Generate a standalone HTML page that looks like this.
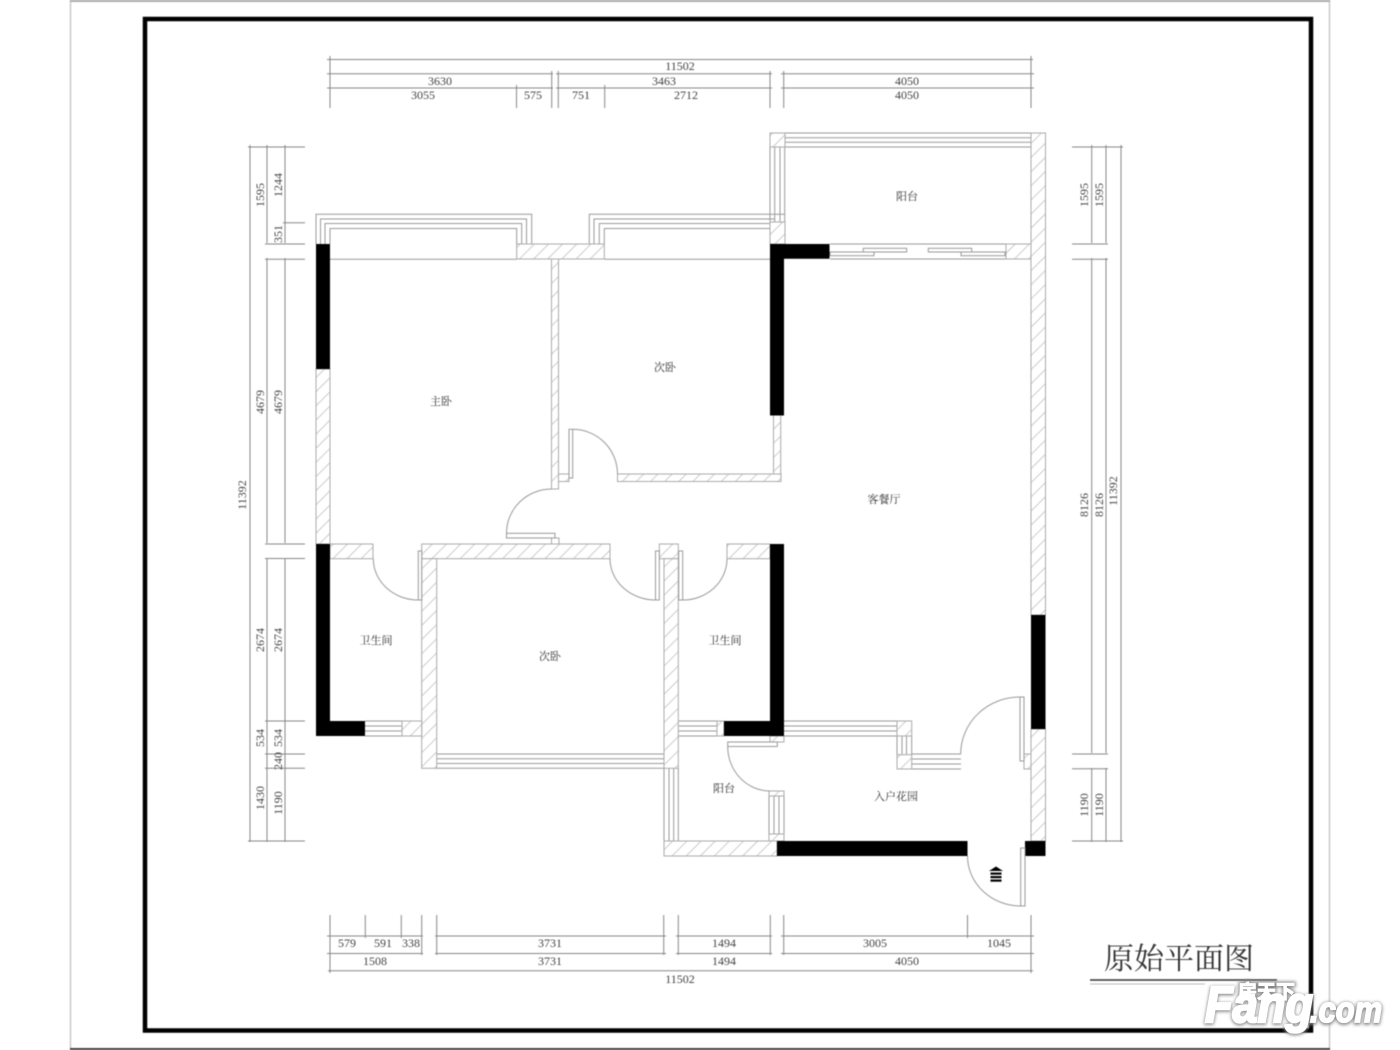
<!DOCTYPE html>
<html><head><meta charset="utf-8"><style>
html,body{margin:0;padding:0;background:#fff;width:1400px;height:1050px;overflow:hidden}
svg{display:block;position:absolute;left:0;top:0}
.d text{font-family:"Liberation Serif","Noto Serif CJK SC",serif;font-size:12px;fill:#444;text-anchor:middle}
.r text{font-family:"Noto Serif CJK SC","Noto Sans CJK SC",serif;font-size:11px;fill:#333;text-anchor:middle}
.l{fill:none;stroke:#9a9a9a;stroke-width:1}
.dl{fill:none;stroke:#888;stroke-width:1}
.h{fill:url(#hp);stroke:#aaa;stroke-width:1}
.b{fill:#000}
.w{fill:#fff;stroke:#999;stroke-width:1}
</style></head><body>
<svg width="1400" height="1050" viewBox="0 0 1400 1050" xmlns="http://www.w3.org/2000/svg">
<defs>
<pattern id="hp" width="10" height="10" patternUnits="userSpaceOnUse" patternTransform="rotate(45)"><rect width="10" height="10" fill="#fff"/><line x1="0" y1="0" x2="0" y2="10" stroke="#c0c0c0" stroke-width="1.6"/></pattern>
<filter id="s" x="-10%" y="-20%" width="120%" height="140%"><feGaussianBlur stdDeviation="1.6"/></filter>
</defs>
<g style="filter:blur(.5px)">
<!-- outer page -->
<path d="M70.5 0V1050M1329.5 0V1050" fill="none" stroke="#c8c8c8" stroke-width="1.500"/>
<path d="M70 1 H1330" stroke="#aaa" stroke-width="2" fill="none"/>
<path d="M70 1049 H1330" stroke="#444" stroke-width="2" fill="none"/>
<rect x="145" y="19" width="1166" height="1011.500" fill="none" stroke="#000" stroke-width="4.500"/>

<!-- dimensions: top -->
<g class="dl">
<path d="M327 59.500H1033M327 73.700H553M556 73.700H772M781 73.700H1034M327 88H553M556 88H772M781 88H1034"/>
<path d="M330 56V108M516.500 85V108M551.700 71V108M558.300 71V108M604.700 85V108M770 71V108M783.700 71V108M1031 56V108"/>
<!-- left -->
<path d="M250 145V842M267 145V243M285 145V243M267 258V543M285 258V543M267 558V842M285 558V842"/>
<path d="M248 147H305M283 222.700H305M265 244H305M265 259.300H305M265 544H305M265 558.500H305M265 721H305M265 754H305M265 768.300H305M248 841H305"/>
<!-- right -->
<path d="M1091.700 145V243M1106 145V243M1091.700 258V753M1106 258V753M1091.700 768V842M1106 768V842M1121 145V842"/>
<path d="M1072 147H1123M1072 244H1108M1072 259.300H1108M1072 754H1108M1072 768.700H1108M1072 841H1123"/>
<!-- bottom -->
<path d="M327 936H423M435 936H666M676 936H772M781 936H1034M327 953.500H423M435 953.500H666M676 953.500H772M781 953.500H1034M328 970.700H1033"/>
<path d="M330 915V973M365.300 915V938M401.300 915V938M421.700 915V955M436.700 915V955M663.700 915V955M678.300 915V955M770.300 915V955M783.700 915V955M967.500 915V938M1031 915V973"/>
</g>

<g class="d">
<text x="680" y="70">11502</text><text x="440" y="85">3630</text><text x="664" y="85">3463</text><text x="907" y="85">4050</text>
<text x="423" y="99">3055</text><text x="533" y="99">575</text><text x="581" y="99">751</text><text x="686" y="99">2712</text><text x="907" y="99">4050</text>
<text x="347" y="947">579</text><text x="383" y="947">591</text><text x="411" y="947">338</text><text x="550" y="947">3731</text><text x="724" y="947">1494</text><text x="875" y="947">3005</text><text x="999" y="947">1045</text>
<text x="375" y="965">1508</text><text x="550" y="965">3731</text><text x="724" y="965">1494</text><text x="907" y="965">4050</text>
<text x="680" y="983">11502</text>
<text transform="translate(264,195) rotate(-90)">1595</text>
<text transform="translate(282,185) rotate(-90)">1244</text>
<text transform="translate(282,234) rotate(-90)">351</text>
<text transform="translate(264,402) rotate(-90)">4679</text>
<text transform="translate(282,402) rotate(-90)">4679</text>
<text transform="translate(246,495) rotate(-90)">11392</text>
<text transform="translate(264,640) rotate(-90)">2674</text>
<text transform="translate(282,640) rotate(-90)">2674</text>
<text transform="translate(264,738) rotate(-90)">534</text>
<text transform="translate(282,738) rotate(-90)">534</text>
<text transform="translate(282,761) rotate(-90)">240</text>
<text transform="translate(264,798) rotate(-90)">1430</text>
<text transform="translate(282,803) rotate(-90)">1190</text>
<text transform="translate(1088,195) rotate(-90)">1595</text>
<text transform="translate(1103,195) rotate(-90)">1595</text>
<text transform="translate(1088,505) rotate(-90)">8126</text>
<text transform="translate(1103,505) rotate(-90)">8126</text>
<text transform="translate(1117,491) rotate(-90)">11392</text>
<text transform="translate(1088,805) rotate(-90)">1190</text>
<text transform="translate(1103,805) rotate(-90)">1190</text>
</g>

<!-- thin lines: windows -->
<g class="l">
<path d="M316 244V214.300H531.700V244M320.500 244V219H526.500V244M325 244V223.500H521.700V244M330 244V228.500H516.700V244"/>
<path d="M589.300 244V214.300H785M594 244V219H775M599.300 244V223.500H778M604.300 244V228.500H770"/>
<path d="M330 259.300H516.700M604.300 259.300H770"/>
<path d="M785 137.700H1031M785 142.300H1031M785 147H1031M770 133H1045.500"/>
<path d="M770 147V222M774.700 147V222M780 147V222M784.700 147V244"/>
<path d="M830 244H1006M830 259H1006"/>
<path d="M365 721H402M365 726H402M365 731H402M365 736H402"/>
<path d="M436.700 754H664M436.700 758.700H664M436.700 763.500H664M436.700 768.300H664"/>
<path d="M664 768V841M669 768V841M673.700 768V841M678.300 768V841"/>
<path d="M678.300 721H717M678.300 726H717M678.300 731H717M678.300 736H717"/>
<path d="M784 721H897M784 726H897M784 731H897M784 736H897"/>
<path d="M897 736V754.700M902 736V754.700M906.500 736V754.700M911.700 736V754.700"/>
<path d="M911.700 754H961M911.700 759H961M911.700 764H961M911.700 769H961"/>
<path d="M769 796V834M774 796V834M779 796V834M784 796V834"/>
</g>
<g class="w">
<rect x="863.300" y="248.300" width="43.400" height="3.700"/><rect x="830" y="252" width="44" height="3.700"/>
<rect x="928.300" y="248.300" width="43.400" height="3.700"/><rect x="961" y="252" width="44" height="3.700"/>
</g>

<!-- hatched walls -->
<g class="h">
<rect x="316" y="369" width="14" height="175"/>
<rect x="516.700" y="244" width="87.600" height="15"/>
<rect x="551.500" y="259" width="7" height="230"/>
<rect x="558.500" y="474" width="10.500" height="7.500"/>
<rect x="617.500" y="474" width="163.500" height="7.500"/>
<rect x="773.500" y="415" width="7.200" height="59"/>
<rect x="421.700" y="544" width="188.300" height="14.700"/>
<rect x="421.700" y="558.700" width="15" height="209.600"/>
<rect x="330" y="544" width="43" height="14.700"/>
<rect x="727" y="544" width="43" height="14.700"/>
<rect x="659.300" y="544" width="19" height="14.700"/>
<rect x="664" y="558.700" width="14.300" height="209.600"/>
<rect x="402" y="721" width="19.700" height="15"/>
<rect x="717" y="721" width="7" height="15"/>
<rect x="664" y="841" width="113" height="15"/>
<rect x="1031" y="133" width="14.500" height="482"/>
<rect x="1031" y="729" width="14.500" height="112"/>
<rect x="1006" y="244" width="25" height="15"/>
<rect x="770" y="133" width="15" height="14"/>
<rect x="770" y="222" width="15" height="22"/>
<rect x="897" y="721" width="14.700" height="15"/>
<rect x="897" y="754.700" width="14.700" height="14.300"/>
<rect x="1024" y="754" width="7" height="15"/>
<rect x="769" y="834" width="15" height="7"/>
<rect x="769" y="791" width="15" height="5"/>
<rect x="770" y="736" width="14" height="6"/>
<rect x="551.500" y="538" width="7.500" height="6"/>
</g>

<!-- black walls -->
<g class="b">
<rect x="316" y="244" width="14" height="125"/>
<path d="M316 544H330V721H365V736H316Z"/>
<path d="M770 244H829.500V258.700H784V415.500H770Z"/>
<path d="M770 544H784V736H724V721H770Z"/>
<rect x="1031" y="615" width="14.500" height="114"/>
<rect x="777" y="841" width="190.500" height="15"/>
<rect x="1025" y="841" width="20.500" height="15"/>
</g>

<!-- doors -->
<g class="w">
<rect x="569" y="429.300" width="3.700" height="48.700"/>
<rect x="506.500" y="533.300" width="48.500" height="4.700"/>
<rect x="655.500" y="551" width="3.800" height="49"/>
<rect x="678.700" y="551" width="4" height="49"/>
<rect x="418.300" y="551" width="3.400" height="49"/>
<rect x="1020" y="697" width="4" height="64"/>
<rect x="1020.700" y="848" width="4.300" height="58"/>
<rect x="727.700" y="742" width="49.600" height="4.500"/>
</g>
<g fill="none" stroke="#999" stroke-width="1">
<path d="M572.700 429.300A44.800 44.700 0 0 1 617.500 474"/>
<path d="M506.500 533.300A45 44.300 0 0 1 551.500 489"/>
<path d="M610 558.700A45.700 41.300 0 0 0 655.700 600"/>
<path d="M727 558.700A44 41.300 0 0 1 683 600"/>
<path d="M373.300 558.700A45 41.300 0 0 0 418.300 600"/>
<path d="M960.700 754A59.300 57 0 0 1 1020 697"/>
<path d="M967.500 856A53.500 50 0 0 0 1021 906"/>
<path d="M727.700 746.500A42.300 44.500 0 0 0 770 791"/>
</g>
<!-- entrance arrow -->
<path d="M996 866.500L1003 871H989Z" fill="#000"/>
<rect x="990.500" y="872.500" width="11" height="2.200" fill="#000"/>
<rect x="990.500" y="876" width="11" height="2.200" fill="#000"/>
<rect x="990.500" y="879.500" width="11" height="2.200" fill="#000"/>

<!-- room labels -->
<g class="r">
<text x="907" y="200">阳台</text>
<text x="665" y="371">次卧</text>
<text x="441" y="405">主卧</text>
<text x="884" y="503">客餐厅</text>
<text x="376" y="644">卫生间</text>
<text x="550" y="660">次卧</text>
<text x="725" y="644">卫生间</text>
<text x="724" y="792">阳台</text>
<text x="896" y="800">入户花园</text>
</g>

<!-- title -->
<text x="1104" y="969" font-family="'Noto Serif CJK SC','Liberation Serif',serif" font-size="30" fill="#333">原始平面图</text>
<path d="M1090 980H1277" stroke="#333" stroke-width="1.500" fill="none"/>
<path d="M1090 984H1205" stroke="#bbb" stroke-width="1" fill="none"/>
</g>

<!-- watermark -->
<g font-family="'Liberation Sans',sans-serif" font-weight="700" font-style="italic">
<g filter="url(#s)" fill="#888" stroke="#888" stroke-width="3.500">
<text x="1205" y="1023" font-size="51" textLength="108" lengthAdjust="spacingAndGlyphs">Fang</text>
<text x="1310" y="1023" font-size="36" textLength="72" lengthAdjust="spacingAndGlyphs">.com</text>
<text x="1238" y="998" font-size="19" font-style="normal" font-family="'Noto Sans CJK SC','Liberation Sans',sans-serif">房天下</text>
</g>
<text x="1205" y="1022" font-size="51" textLength="108" lengthAdjust="spacingAndGlyphs" fill="#fff" stroke="#fff" stroke-width="2.500">Fang</text>
<text x="1310" y="1022" font-size="36" textLength="72" lengthAdjust="spacingAndGlyphs" fill="#fff" stroke="#fff" stroke-width="1.800">.com</text>
<text x="1238" y="998" font-size="19" font-style="normal" font-family="'Noto Sans CJK SC','Liberation Sans',sans-serif" fill="#fff" stroke="#fff" stroke-width="1">房天下</text>
</g>
</svg>
</body></html>
